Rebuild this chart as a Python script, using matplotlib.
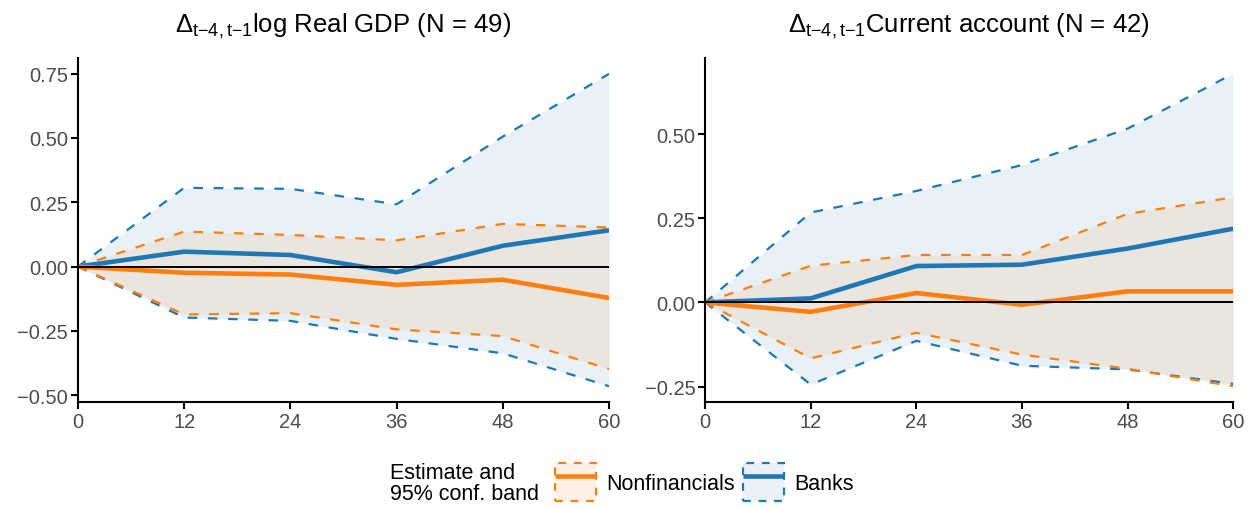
import matplotlib
matplotlib.use("Agg")
import matplotlib.pyplot as plt
from matplotlib.colors import to_rgba
from matplotlib.legend_handler import HandlerTuple
from matplotlib.lines import Line2D
from matplotlib.patches import Patch

plt.rcParams["font.family"] = ["Liberation Sans", "DejaVu Sans"]
plt.rcParams["mathtext.fontset"] = "custom"
plt.rcParams["mathtext.rm"] = "Liberation Sans"
plt.rcParams["mathtext.it"] = "Liberation Sans:italic"

# horizon (months)
horizon = [0, 12, 24, 36, 48, 60]

# left panel: log real GDP
gdp_nonfin = [0.0, -0.024, -0.031, -0.071, -0.051, -0.122]
gdp_nonfin_lo = [0.0, -0.186, -0.181, -0.244, -0.270, -0.398]
gdp_nonfin_hi = [0.0, 0.136, 0.123, 0.102, 0.166, 0.152]
gdp_banks = [0.0, 0.058, 0.045, -0.022, 0.081, 0.141]
gdp_banks_lo = [0.0, -0.198, -0.211, -0.281, -0.337, -0.465]
gdp_banks_hi = [0.0, 0.306, 0.302, 0.242, 0.505, 0.749]

# right panel: current account
ca_nonfin = [0.0, -0.028, 0.028, -0.007, 0.033, 0.033]
ca_nonfin_lo = [0.0, -0.166, -0.090, -0.155, -0.197, -0.249]
ca_nonfin_hi = [0.0, 0.109, 0.141, 0.141, 0.263, 0.312]
ca_banks = [0.0, 0.012, 0.108, 0.112, 0.160, 0.219]
ca_banks_lo = [0.0, -0.244, -0.114, -0.188, -0.199, -0.242]
ca_banks_hi = [0.0, 0.267, 0.331, 0.408, 0.516, 0.679]

titles = [
    r"$\Delta_{\mathrm{t{-}4,t{-}1}}$log Real GDP (N = 49)",
    r"$\Delta_{\mathrm{t{-}4,t{-}1}}$Current account (N = 42)",
]
yticks = [
    [-0.50, -0.25, 0.00, 0.25, 0.50, 0.75],
    [-0.25, 0.00, 0.25, 0.50],
]

ORANGE = "#ff7f0e"
BLUE = "#1f77b4"
TICK_FS = 14.5
TITLE_FS = 18.5
LEGEND_FS = 15.5
DASH = (0, (4.3, 4.8))


def draw_panel(ax, title, ticks, nonfin, nonfin_lo, nonfin_hi, banks, banks_lo, banks_hi):
    ax.fill_between(horizon, banks_lo, banks_hi, color=BLUE, alpha=0.1, linewidth=0)
    ax.fill_between(horizon, nonfin_lo, nonfin_hi, color=ORANGE, alpha=0.1, linewidth=0)
    for series, color in ((banks_lo, BLUE), (banks_hi, BLUE), (nonfin_lo, ORANGE), (nonfin_hi, ORANGE)):
        ax.plot(horizon, series, color=color, linestyle=DASH, linewidth=1.6)
    ax.plot(horizon, banks, color=BLUE, linewidth=3.3, solid_capstyle="butt")
    ax.plot(horizon, nonfin, color=ORANGE, linewidth=3.3, solid_capstyle="butt")
    ax.axhline(0, color="black", linewidth=1.4)

    low = min(min(banks_lo), min(nonfin_lo))
    high = max(max(banks_hi), max(nonfin_hi))
    pad = 0.05 * (high - low)
    ax.set_ylim(low - pad, high + pad)
    ax.set_xlim(0, 60)
    ax.set_xticks(horizon)
    ax.set_yticks(ticks)
    ax.set_yticklabels([f"{t:.2f}".replace("-", "\u2212") for t in ticks])

    for side in ("top", "right"):
        ax.spines[side].set_visible(False)
    for side in ("left", "bottom"):
        ax.spines[side].set_linewidth(1.5)
    ax.tick_params(axis="both", length=5, width=1.5, colors="black",
                   labelcolor="#4d4d4d", labelsize=TICK_FS, pad=2)
    ax.set_title(title, fontsize=TITLE_FS, pad=19)


fig = plt.figure(figsize=(12.57, 5.10), dpi=100)
ax_left = fig.add_axes([0.062, 0.210, 0.4225, 0.674])
ax_right = fig.add_axes([0.561, 0.210, 0.420, 0.674])

draw_panel(ax_left, titles[0], yticks[0], gdp_nonfin, gdp_nonfin_lo, gdp_nonfin_hi,
           gdp_banks, gdp_banks_lo, gdp_banks_hi)
draw_panel(ax_right, titles[1], yticks[1], ca_nonfin, ca_nonfin_lo, ca_nonfin_hi,
           ca_banks, ca_banks_lo, ca_banks_hi)

# legend
fig.text(390 / 1257, 1 - 484 / 510, "Estimate and\n95% conf. band", fontsize=LEGEND_FS,
         ha="left", va="center", linespacing=1.0)

handles = []
for color in (ORANGE, BLUE):
    box = Patch(facecolor=to_rgba(color, 0.1), edgecolor=color, linestyle=(0, (3.5, 3.5)), linewidth=1.6)
    line = Line2D([], [], color=color, linewidth=3.3, solid_capstyle="butt")
    handles.append((box, line))

fig.legend(handles, ["Nonfinancials", "Banks"], loc="center left",
           bbox_to_anchor=(540 / 1257, 1 - 483 / 510), ncol=2, frameon=False,
           fontsize=LEGEND_FS, handlelength=1.9, handleheight=2.3, handletextpad=0.5,
           columnspacing=0.35, borderaxespad=0.3,
           handler_map={tuple: HandlerTuple(ndivide=1)})

fig.savefig("out.png", dpi=100)
